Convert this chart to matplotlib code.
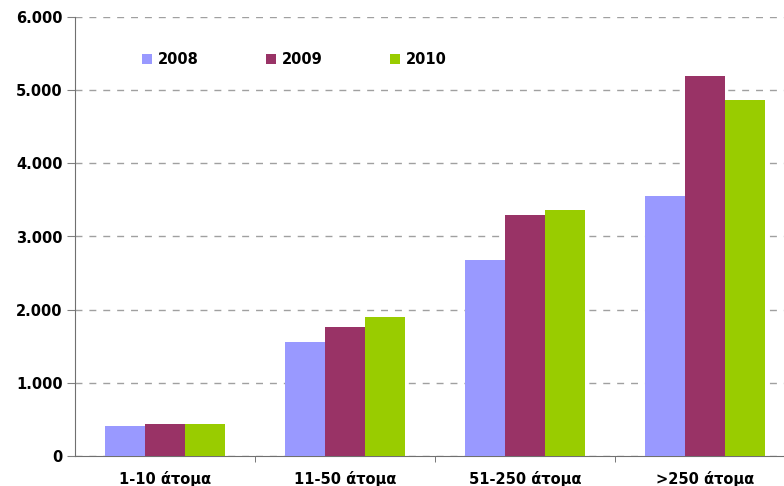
import numpy as np
import matplotlib.pyplot as plt
from matplotlib.ticker import FuncFormatter

# Δεδομένα
categories = ['1-10 άτομα', '11-50 άτομα', '51-250 άτομα', '>250 άτομα']
years = ['2008', '2009', '2010']
v2008 = [410, 1560, 2680, 3555]
v2009 = [440, 1765, 3295, 5195]
v2010 = [440, 1900, 3360, 4865]
colors = ['#9999FF', '#993366', '#99CC00']

plt.rcParams['font.family'] = ['DejaVu Sans']
plt.rcParams['font.weight'] = 'bold'

fig = plt.figure(figsize=(7.84, 4.86), dpi=100)
ax = fig.add_axes([75/784, 30/486, 720/784, 439/486])

x = np.arange(len(categories))
w = 0.224
for i, (vals, c, lab) in enumerate(zip([v2008, v2009, v2010], colors, years)):
    ax.bar(x + (i - 1) * w, vals, w, color=c, label=lab, zorder=3)

ax.set_xlim(-0.5, 3.5)
ax.set_ylim(0, 6000)
ax.set_yticks(np.arange(0, 6001, 1000))
ax.yaxis.set_major_formatter(FuncFormatter(lambda v, p: '{:,.0f}'.format(v).replace(',', '.')))
ax.set_xticks(x)
ax.set_xticklabels(categories)
ax.set_xticks(np.arange(0.5, 3.6, 1), minor=True)
ax.tick_params(axis='x', which='major', length=0, pad=11, labelsize=10.5)
ax.tick_params(axis='x', which='minor', length=4, color='#606060', direction='out')
ax.tick_params(axis='y', length=6, color='#808080', labelsize=10.5, pad=3)

ax.grid(axis='y', linestyle=(0, (5, 5)), color='#a0a0a0', linewidth=1, zorder=0)
for s in ['top', 'right']:
    ax.spines[s].set_visible(False)
ax.spines['left'].set_color('#707070')
ax.spines['bottom'].set_color('#707070')

ax.legend(ncol=3, loc='upper left', bbox_to_anchor=(0.075, 0.95), frameon=False,
          handlelength=0.7, handleheight=0.7, handletextpad=0.4, columnspacing=4.6,
          prop={'weight': 'bold', 'size': 10.5})

fig.savefig('out.png', dpi=100)
